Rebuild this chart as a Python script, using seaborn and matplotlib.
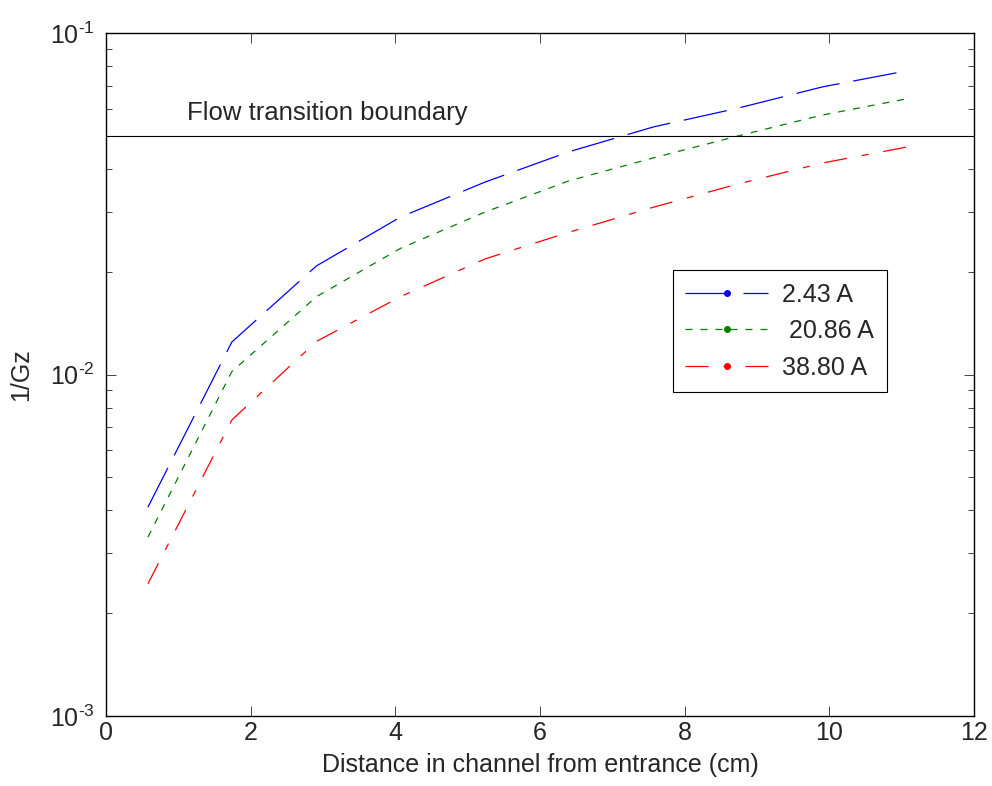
import numpy as np
import pandas as pd
import seaborn as sns
import matplotlib
matplotlib.use("Agg")
import matplotlib.pyplot as plt
from matplotlib.lines import Line2D
from matplotlib.ticker import FixedLocator, FixedFormatter

# Data
distance_cm = [0.58, 1.74, 2.91, 4.07, 5.24, 6.40, 7.57, 8.73, 9.90, 11.06]
inv_gz_243 = [0.00409, 0.01245, 0.0208, 0.0289, 0.0366, 0.0449, 0.0531, 0.0602, 0.0695, 0.0774]
inv_gz_2086 = [0.00334, 0.0102, 0.0169, 0.0234, 0.0299, 0.0369, 0.0431, 0.0499, 0.0575, 0.0641]
inv_gz_3880 = [0.00244, 0.00736, 0.0125, 0.0169, 0.0218, 0.0261, 0.0309, 0.0361, 0.0416, 0.0463]
series_labels = ["2.43 A", "20.86 A", "38.80 A"]
y_ticks = [1e-3, 1e-2, 1e-1]
y_tick_labels = [r"$10^{\text{-}3}$", r"$10^{\text{-}2}$", r"$10^{\text{-}1}$"]
boundary = 0.05

sns.set_theme(style="ticks")
plt.rcParams["font.family"] = ["Liberation Sans", "DejaVu Sans"]
plt.rcParams["mathtext.fontset"] = "custom"
plt.rcParams["mathtext.rm"] = "Liberation Sans"
plt.rcParams["mathtext.it"] = "Liberation Sans"
plt.rcParams["mathtext.default"] = "regular"
plt.rcParams["lines.scale_dashes"] = False

df = pd.DataFrame({
    "x": distance_cm * 3,
    "y": inv_gz_243 + inv_gz_2086 + inv_gz_3880,
    "series": sum([[s] * len(distance_cm) for s in series_labels], []),
})

fig = plt.figure(figsize=(9.92, 7.86), dpi=100)
ax = fig.add_axes([106 / 992, 1 - 716 / 786, 868 / 992, 683 / 786])

px = 0.72
colors = {"2.43 A": "#0000ff", "20.86 A": "#008000", "38.80 A": "#ff0000"}
dashes = {
    "2.43 A": (44 * px, 14 * px),
    "20.86 A": (7 * px, 8 * px),
    "38.80 A": (23 * px, 15 * px, 7 * px, 15 * px),
}
sns.lineplot(data=df, x="x", y="y", hue="series", style="series",
             palette=colors, dashes=dashes, linewidth=0.9, ax=ax, legend=False)

ax.axhline(boundary, color="black", linewidth=0.8)
ax.text(1.12, 0.0585, "Flow transition boundary", fontsize=18.5, va="center", ha="left")

ax.set_yscale("log")
ax.set_xlim(0, 12)
ax.set_ylim(1e-3, 1e-1)
ax.set_xticks([0, 2, 4, 6, 8, 10, 12])
ax.yaxis.set_major_locator(FixedLocator(y_ticks))
ax.yaxis.set_major_formatter(FixedFormatter(y_tick_labels))
ax.set_xlabel("Distance in channel from entrance (cm)", fontsize=18, labelpad=6)
ax.set_ylabel("1/Gz", fontsize=18, labelpad=12)

ax.tick_params(which="both", direction="in", top=True, right=True, labelsize=18)
ax.tick_params(axis="y", which="major", pad=8)
ax.tick_params(which="major", length=7, width=0.6)
ax.tick_params(which="minor", length=4, width=0.6)
for s in ax.spines.values():
    s.set_linewidth(1.0)
    s.set_color("black")

handles = [
    Line2D([0], [0], color=colors[s], linewidth=0.9, dashes=dashes[s],
           marker="o", markersize=4, markerfacecolor=colors[s], markeredgecolor=colors[s])
    for s in series_labels
]
leg = ax.legend(handles, [" " + series_labels[0], "  " + series_labels[1], " " + series_labels[2]],
                loc="upper left", bbox_to_anchor=(0.653, 0.653), borderaxespad=0,
                fontsize=18,
                frameon=True, fancybox=False, edgecolor="black", framealpha=1,
                numpoints=1, handlelength=3.3, borderpad=0.5, labelspacing=0.5,
                handletextpad=0.3)
leg.get_frame().set_linewidth(0.8)

fig.savefig("out.png", dpi=100)
